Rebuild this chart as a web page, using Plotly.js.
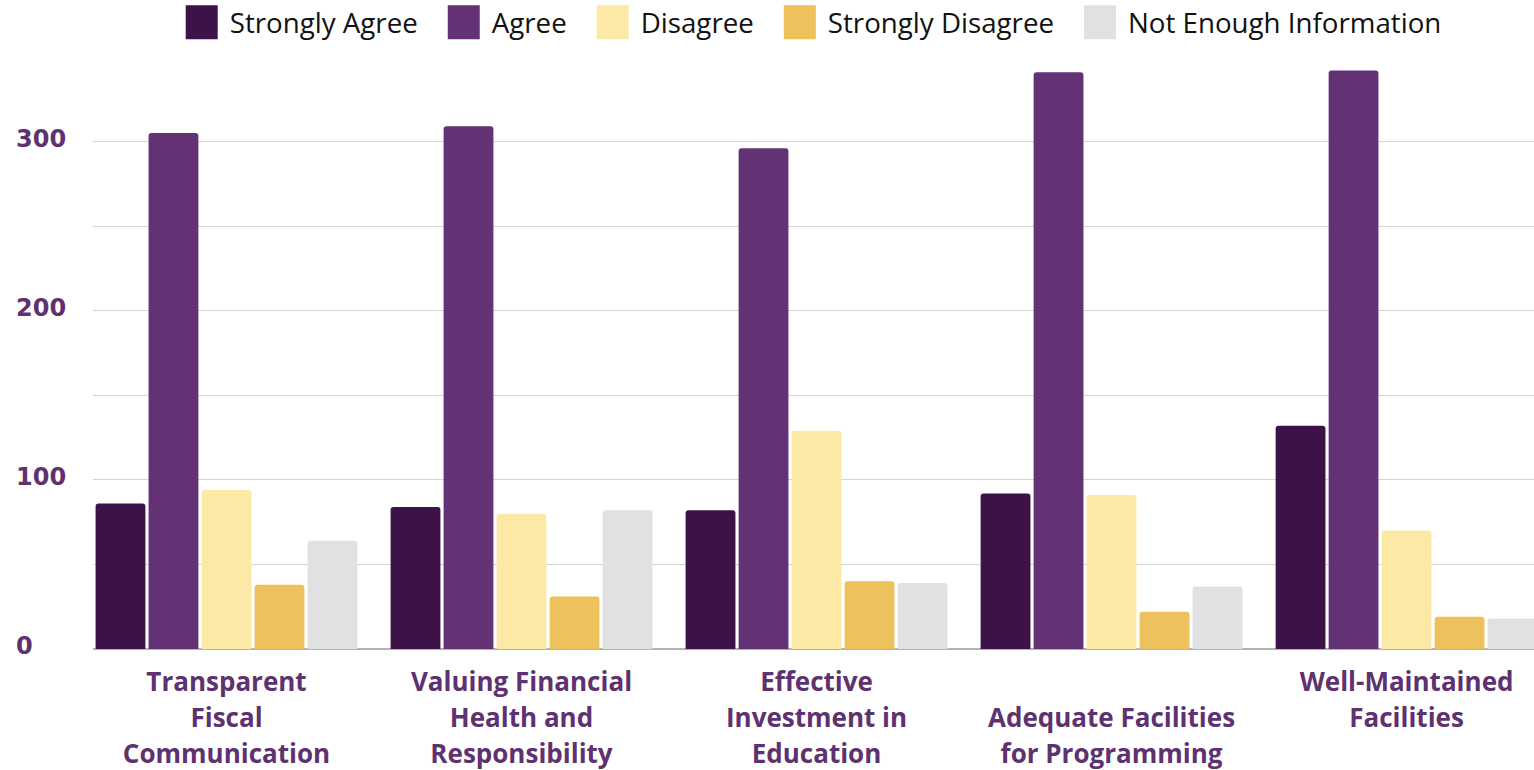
<!DOCTYPE html>
<html>
<head>
<meta charset="utf-8">
<script src="https://cdn.plot.ly/plotly-3.0.1.min.js"></script>
<style>
html,body{margin:0;padding:0;background:#fff;}
#chart{width:1534px;height:770px;}
</style>
</head>
<body>
<div id="chart"></div>
<script>
const categories = [
  "Transparent<br>Fiscal<br>Communication",
  "Valuing Financial<br>Health and<br>Responsibility",
  "Effective<br>Investment in<br>Education",
  " <br>Adequate Facilities<br>for Programming",
  "Well-Maintained<br>Facilities"
];
const seriesNames = ["Strongly Agree", "Agree", "Disagree", "Strongly Disagree", "Not Enough Information"];
const stronglyAgree = [86, 84, 82, 92, 132];
const agree = [305, 309, 296, 341, 342];
const disagree = [94, 80, 129, 91, 70];
const stronglyDisagree = [38, 31, 40, 22, 19];
const notEnoughInfo = [64, 82, 39, 37, 18];
const yTicks = [0, 100, 200, 300];

const colors = ["#3d1249", "#623274", "#fde9a6", "#edc15b", "#e1e1e1"];
const seriesValues = [stronglyAgree, agree, disagree, stronglyDisagree, notEnoughInfo];
const textColor = "#5e3170";

const data = seriesNames.map((n, i) => ({
  type: "bar",
  name: n,
  x: categories,
  y: seriesValues[i],
  marker: {color: colors[i], line: {width: 0}},
  hoverinfo: "y+name"
}));

const annotations = yTicks.map(v => ({
  xref: "paper", yref: "y", x: -78/1441, y: v,
  xanchor: "left", yanchor: "middle", yshift: 3,
  text: String(v), showarrow: false, borderpad: 0,
  font: {family: "DejaVu Sans", size: 24, color: textColor, weight: 700}
}));

const layout = {
  width: 1534, height: 770,
  margin: {l: 93, r: 0, t: 57, b: 121, pad: 0},
  paper_bgcolor: "#fff", plot_bgcolor: "#fff",
  barmode: "group",
  bargap: 0.1017,
  bargroupgap: 0.06,
  barcornerradius: 3,
  showlegend: true,
  legend: {
    orientation: "h", x: 0.5, xanchor: "center",
    yref: "container", y: 1, yanchor: "top",
    itemwidth: 34,
    font: {family: "Open Sans", size: 27.7, color: "#111"},
    itemclick: false, itemdoubleclick: false,
    bgcolor: "rgba(0,0,0,0)"
  },
  xaxis: {
    type: "category",
    range: [-0.4525, 4.432],
    showgrid: false, zeroline: false, showline: false,
    ticks: "", ticklen: 0,
    tickfont: {family: "Open Sans", size: 26, color: textColor, weight: 700},
    ticklabelstandoff: 15,
    fixedrange: true
  },
  yaxis: {
    range: [0, 350],
    dtick: 50, tick0: 0,
    showgrid: true, gridcolor: "#d4d4d4", gridwidth: 1,
    zeroline: true, zerolinecolor: "#b3b3b3", zerolinewidth: 2,
    showticklabels: false, ticks: "",
    showline: false,
    fixedrange: true
  },
  annotations: annotations
};

Plotly.newPlot("chart", data, layout, {displayModeBar: false}).then(gd => {
  gd.querySelectorAll(".xtick text tspan.line").forEach(t => {
    const dy = t.getAttribute("dy");
    if (dy && dy.indexOf("em") > 0 && parseFloat(dy) > 0) {
      t.setAttribute("dy", (parseFloat(dy) / 1.3 * 1.38).toFixed(3) + "em");
    }
  });
  const legend = gd.querySelector(".legend");
  const scroll = legend.querySelector(".scrollbox");
  legend.querySelectorAll("[clip-path]").forEach(e => e.removeAttribute("clip-path"));
  const bg = legend.querySelector("rect.bg");
  if (bg) bg.setAttribute("width", 0);
  const m = /translate\(([-\d.]+)[ ,]+([-\d.]+)\)/.exec(legend.getAttribute("transform"));
  let ly = m ? parseFloat(m[2]) : 0;
  const items = Array.from(legend.querySelectorAll("g.traces"));
  const textGap = 44, itemSpace = 30;
  const widths = items.map(it => it.querySelector("text.legendtext").getComputedTextLength());
  const total = widths.reduce((a, w) => a + textGap + w, 0) + itemSpace * (items.length - 1);
  let x = (93 + 1441 / 2) - total / 2;
  items.forEach((it, i) => {
    const tm = /translate\(([-\d.]+)[ ,]+([-\d.]+)\)/.exec(it.getAttribute("transform") || "");
    const ty = tm ? parseFloat(tm[2]) : 0;
    it.setAttribute("transform", "translate(" + x + "," + ty + ")");
    const p = it.querySelector(".legendpoints path");
    if (p) { p.setAttribute("d", "M0,-17H32V17H0Z"); p.removeAttribute("transform"); }
    x += textGap + widths[i] + itemSpace;
  });
  if (scroll) scroll.setAttribute("transform", "translate(0,0)");
  legend.setAttribute("transform", "translate(0," + ly + ")");
  const r = items[0].querySelector("text.legendtext").getBoundingClientRect();
  const gr = gd.getBoundingClientRect();
  const cy = r.top - gr.top + r.height / 2;
  legend.setAttribute("transform", "translate(0," + (ly + 22 - cy) + ")");
});
</script>
</body>
</html>
